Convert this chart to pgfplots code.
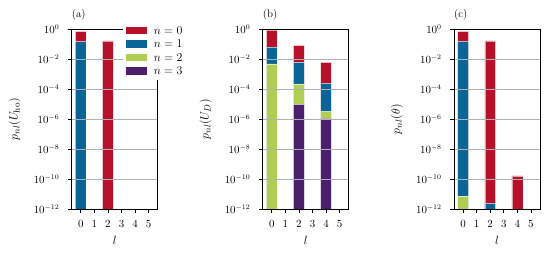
\documentclass[border=0pt]{standalone}
\usepackage{pgfplots}
\pgfplotsset{compat=1.18}
\definecolor{cR}{RGB}{181,17,43}
\definecolor{cB}{RGB}{10,100,150}
\definecolor{cG}{RGB}{176,206,84}
\definecolor{cP}{RGB}{75,30,110}
\definecolor{gridc}{RGB}{176,176,176}
\pgfplotsset{
  every axis/.append style={
    scale only axis, width=86bp, height=180bp, anchor=south west,
    ymin=1e-12, ymax=1, log origin y=infty,
    ytick={1e-12,1e-10,1e-8,1e-6,1e-4,1e-2,1},
    yminorticks=false,
    xmin=-0.67, xmax=5.67, xtick={0,...,5},
    tick align=outside, tick pos=left, major tick length=4bp,
    ymajorgrids, grid style={gridc, line width=0.8bp},
    axis on top,
    axis line style={line width=0.8bp},
    tick style={line width=0.8bp, black},
    tick label style={font=\fontsize{10.5}{12}\selectfont},
    xticklabel style={yshift=-3.5bp},
    yticklabel style={xshift=-4.5bp},
    xlabel={$l$},
    xlabel style={at={([yshift=-35bp]axis description cs:0.5,0)}, anchor=base, inner sep=0pt, font=\fontsize{12}{14}\selectfont},
    ylabel style={at={([xshift=-51bp]axis description cs:0,0.5)}, anchor=south, inner sep=0pt, font=\fontsize{12.5}{14}\selectfont},
  },
  every axis title/.append style={at={(0,1)}, anchor=base west, inner sep=0pt, yshift=5.5bp, font=\fontsize{11}{13}\selectfont},
  myleg/.style={legend image code/.code={\fill[##1, draw=none] (0bp,-3.6bp) rectangle (20.6bp,3.6bp);}},
  mybar/.style={ybar, bar width=0.8, bar shift=0pt, fill=#1, draw=white, draw opacity=0.6, line width=0.4bp, forget plot},
}
\begin{document}
\fontsize{11}{13}\selectfont
\begin{tikzpicture}
\path[use as bounding box] (0,0) rectangle (551bp,257bp);
% (a)
\begin{semilogyaxis}[at={(71.7bp,47.7bp)}, title={(a)}, ylabel={$p_{nl}(U_{\rm ho})$},
  myleg,
  legend style={at={(0.597,1)}, anchor=north west, yshift=7.5bp, draw=none, fill=white,
    inner sep=3bp, row sep=2.5bp, font=\fontsize{12}{14}\selectfont,
    nodes={inner sep=1bp, text height=8bp, text depth=1bp},
    /tikz/every odd column/.append style={column sep=6bp}},
  legend cell align=left]
\addlegendimage{fill=cR}\addlegendentry{$n=0$}
\addlegendimage{fill=cB}\addlegendentry{$n=1$}
\addlegendimage{fill=cG}\addlegendentry{$n=2$}
\addlegendimage{fill=cP}\addlegendentry{$n=3$}
\addplot[mybar=cR] coordinates {(0,0.74) (2,0.17)};
\addplot[mybar=cB] coordinates {(0,0.15)};
\end{semilogyaxis}
% (b)
\begin{semilogyaxis}[at={(262.7bp,47.7bp)}, title={(b)}, ylabel={$p_{nl}(U_D)$}]
\addplot[mybar=cR] coordinates {(0,0.9) (2,0.085) (4,0.0063)};
\addplot[mybar=cB] coordinates {(0,0.066) (2,0.0066) (4,2.5e-4)};
\addplot[mybar=cG] coordinates {(0,0.005) (2,2.3e-4) (4,3.4e-6)};
\addplot[mybar=cP] coordinates {(2,1e-5) (4,1.2e-6)};
\end{semilogyaxis}
% (c)
\begin{semilogyaxis}[at={(454bp,47.7bp)}, title={(c)}, ylabel={$p_{nl}(\theta)$}]
\addplot[mybar=cR] coordinates {(0,0.74) (2,0.17) (4,1.7e-10)};
\addplot[mybar=cB] coordinates {(0,0.15) (2,2.5e-12)};
\addplot[mybar=cG] coordinates {(0,8e-12)};
\end{semilogyaxis}
\end{tikzpicture}
\end{document}
